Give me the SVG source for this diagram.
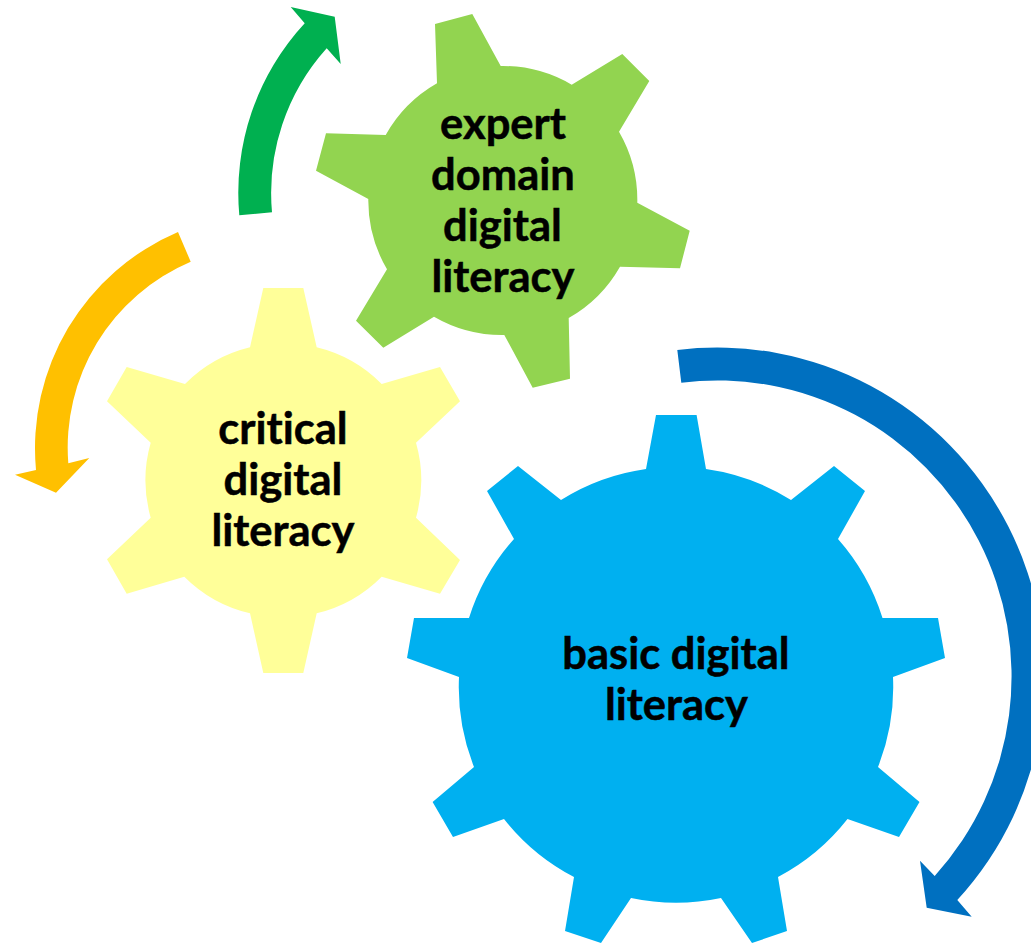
<svg xmlns="http://www.w3.org/2000/svg" width="1031" height="943" viewBox="0 0 1031 943">
<style>
.l{font-family:"Lato","Noto Sans",sans-serif;font-weight:700;font-size:43.500px;fill:#000;stroke:#000;stroke-width:.5px;text-anchor:middle;font-variant-ligatures:none}
</style>
<rect width="1031" height="943" fill="#fff"/>
<g id="connectors">
<path fill="#00B050" d="M239.300 215.300A249.500 249.500 0 0 1 304.700 23.300L290.700 7L334.700 16.700L340.700 64L326.700 48.300A216.500 216.500 0 0 0 272 212.300Z"/>
<path fill="#FFC000" d="M178 232L190.700 261.700A202 202 0 0 0 68.300 463.300L89.300 458L56 492.700L15 474.700L36 470A235 235 0 0 1 178 232Z"/>
<path fill="#0070C0" d="M677.300 350A327 329 0 0 1 957.300 900L971.700 916.700L926.700 907.700L920 860.700L934.700 876A294 296 0 0 0 681.300 382.700Z"/>
</g>
<g id="expert">
<path fill="#92D450" d="M435 24L472.300 14L500.700 66A136 136 0 0 1 571.700 84.700L622.300 54L649.300 81L619 131.700A136 136 0 0 1 637.300 202.700L689.700 230.700L680 268.300L620 266.700A136 136 0 0 1 568.700 318L570 378.700L532.700 387.700L504.300 335A136 136 0 0 1 434 316.700L383.300 347.700L356 320.700L387 269.300A136 136 0 0 1 368.300 199L316 170.700L326 133.300L385.700 135A136 136 0 0 1 437 83.300Z"/>
<text class="l" x="503" y="138.500">expert</text>
<text class="l" x="503" y="189.500">domain</text>
<text class="l" x="502.500" y="240.500">digital</text>
<text class="l" x="503" y="291.500">literacy</text>
</g>
<g id="critical">
<path fill="#FFFF99" d="M263.300 288L303.300 288L316.700 347.300A137 137 0 0 1 381.700 384L440 367L460 401.300L416 442.700A137 137 0 0 1 416 517.700L460 560L440 593.700L381.700 576.700A137 137 0 0 1 316.700 613.300L303.300 673L263.300 673L250 613.300A137 137 0 0 1 184.300 576.700L126.700 593.700L107 559.300L150.700 517.700A137 137 0 0 1 150.700 442.700L107 401.300L126.700 367L185 384A137 137 0 0 1 250 347.300Z"/>
<text class="l" x="283" y="443.500">critical</text>
<text class="l" x="283" y="494.500">digital</text>
<text class="l" x="283" y="545.500">literacy</text>
</g>
<g id="basic">
<path fill="#00B0F0" d="M656 415L696.600 415L706 469A217 217 0 0 1 791 500L834 466L865 491L838 539A217 217 0 0 1 882.500 618L938 618L945 658L893 677A217 217 0 0 1 878 767L919.500 802L899 837L847.500 819A217 217 0 0 1 778 877L787 931L752 943L721 898A217 217 0 0 1 631 898L601 943L565 931L574 877A217 217 0 0 1 504 819L453 837L432.600 802L474 767A217 217 0 0 1 459 677L407 658L414 618L469 618A217 217 0 0 1 514 539L487 491L518 466L561 500A217 217 0 0 1 646 469Z"/>
<text class="l" x="676" y="668.500">basic digital</text>
<text class="l" x="676.500" y="720">literacy</text>
</g>
</svg>
